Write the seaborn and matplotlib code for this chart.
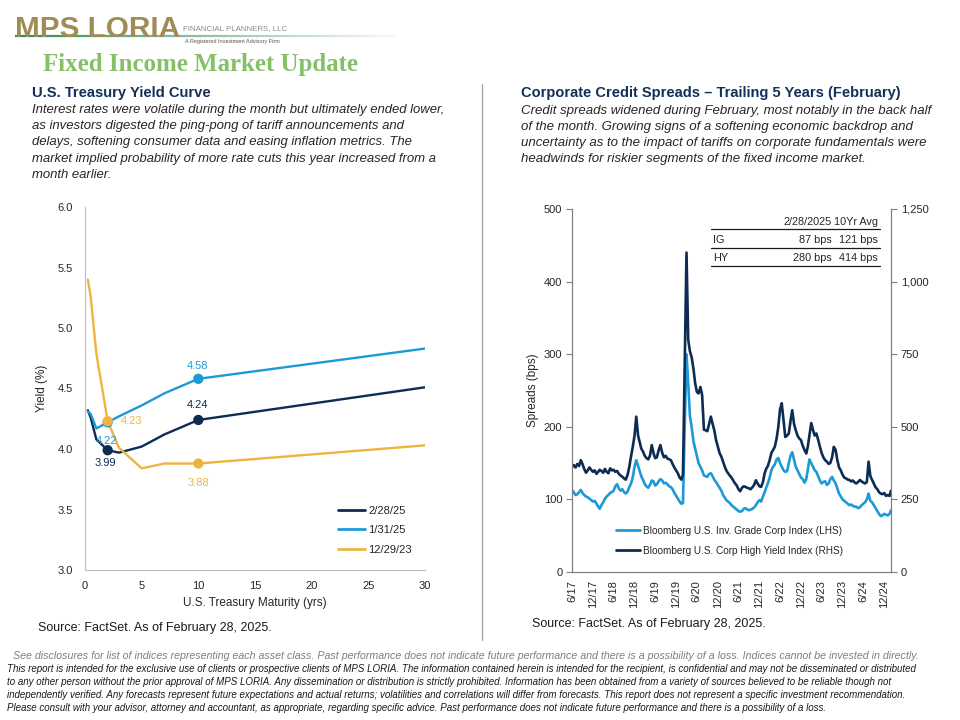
import numpy as np
import pandas as pd
import seaborn as sns
import matplotlib.pyplot as plt
from matplotlib.collections import LineCollection
from matplotlib.lines import Line2D
from matplotlib.ticker import FuncFormatter

# ---------------- data: treasury yield curves ----------------
maturities = [0.25, 0.5, 1, 2, 3, 5, 7, 10, 30]
yield_feb25 = [4.32, 4.26, 4.08, 3.99, 3.97, 4.02, 4.12, 4.24, 4.51]
yield_jan25 = [4.31, 4.29, 4.17, 4.22, 4.27, 4.36, 4.46, 4.58, 4.83]
yield_dec23 = [5.40, 5.26, 4.79, 4.23, 4.01, 3.84, 3.88, 3.88, 4.03]
curve_labels = ["2/28/25", "1/31/25", "12/29/23"]
marked_maturities = [2, 10]

# ---------------- data: credit spreads (bps), mid-month / month-end ----------------
ig_spread = [113,
             110, 106, 107, 110, 113, 109, 106, 104, 103, 101, 99, 97,          # 2017
             98, 94, 90, 87, 92, 96, 101, 104, 106, 109, 110, 112,              # 2018 H1
             118, 121, 115, 112, 114, 110, 108, 111, 117, 122, 130, 145,        # 2018 H2
             154, 146, 138, 132, 127, 121, 118, 116, 120, 126, 125, 119,        # 2019 H1
             121, 125, 128, 126, 122, 123, 121, 118, 117, 114, 109, 105,        # 2019 H2
             101, 97, 94, 95, 200, 300, 260, 215, 200, 180, 170, 160,           # 2020 H1
             150, 145, 140, 133, 132, 131, 135, 136, 132, 127, 124, 120,        # 2020 H2
             116, 112, 106, 103, 99, 97, 95, 92, 90, 88, 86, 84,                # 2021 H1
             83, 84, 87, 88, 86, 85, 86, 87, 89, 92, 96, 99,                    # 2021 H2
             97, 104, 110, 116, 122, 130, 140, 145, 148, 155, 157, 150,         # 2022 H1
             145, 140, 138, 139, 150, 160, 165, 155, 145, 140, 135, 130,        # 2022 H2
             128, 123, 128, 140, 155, 150, 145, 140, 138, 132, 126, 122,        # 2023 H1
             124, 125, 120, 122, 128, 131, 126, 122, 115, 108, 104, 100,        # 2023 H2
             98, 96, 94, 92, 93, 91, 90, 90, 88, 89, 92, 94,                    # 2024 H1
             96, 100, 108, 98, 96, 92, 88, 84, 80, 77, 78, 80,                  # 2024 H2
             79, 78, 80, 85]                                                    # 2025
hy_spread = [362,
             368, 360, 372, 365, 385, 372, 355, 342, 350, 360, 352, 345,
             350, 338, 345, 352, 348, 342, 355, 345, 340, 357, 350, 352,
             345, 348, 338, 332, 328, 322, 318, 335, 362, 398, 430, 470,
             535, 470, 445, 425, 415, 400, 392, 388, 400, 437, 410, 392,
             395, 420, 437, 410, 395, 400, 391, 388, 385, 372, 360, 350,
             340, 325, 318, 335, 700, 1100, 800, 760, 740, 700, 650, 620,
             615, 637, 610, 490, 488, 485, 510, 535, 510, 488, 455, 431,
             410, 397, 380, 365, 350, 340, 332, 325, 315, 305, 298, 285,
             278, 290, 295, 293, 290, 288, 285, 292, 300, 316, 305, 295,
             293, 310, 340, 355, 365, 385, 410, 420, 431, 460, 500, 560,
             581, 520, 465, 470, 477, 520, 557, 510, 488, 470, 460, 454,
             435, 420, 408, 430, 470, 513, 490, 470, 477, 455, 431, 410,
             395, 385, 380, 372, 376, 395, 431, 420, 385, 360, 350, 335,
             325, 322, 318, 317, 312, 315, 308, 305, 310, 317, 312, 308,
             305, 310, 380, 330, 317, 305, 292, 285, 275, 270, 268, 272,
             262, 265, 262, 280]
spread_tick_labels = ["6/17", "12/17", "6/18", "12/18", "6/19", "12/19", "6/20", "12/20",
                      "6/21", "12/21", "6/22", "12/22", "6/23", "12/23", "6/24", "12/24"]
table_cols = ["2/28/2025", "10Yr Avg"]
table_rows = ["IG", "HY"]
table_now = ["87 bps", "280 bps"]
table_avg = ["121 bps", "414 bps"]

# observation dates: 6/30/17, then the 15th and month-end of each month
spread_dates = [pd.Timestamp("2017-06-30")]
for p in pd.period_range("2017-07", "2025-02", freq="M"):
    spread_dates += [p.start_time + pd.Timedelta(days=14), p.end_time.normalize()]

NAVY = "#0c2c54"
BLUE = "#1d9ad6"
GOLD = "#efb440"
HEAD = "#13305a"

sns.set_style("white")
plt.rcParams["font.family"] = ["Liberation Sans", "DejaVu Sans"]

fig = plt.figure(figsize=(9.6, 7.2), dpi=100)
renderer = fig.canvas.get_renderer()


def fx(x):
    return x / 960


def fy(y):
    return 1 - y / 720


def fit_text(x, y, s, width, **kw):
    t = fig.text(fx(x), fy(y), s, **kw)
    w = t.get_window_extent(renderer).width
    t.set_fontsize(t.get_fontsize() * width / w)
    return t


# ---------------- header ----------------
fit_text(15, 29, "MPS LORIA", 165, color="#a08c55", weight="bold", va="center")
fit_text(183, 29, "FINANCIAL PLANNERS, LLC", 104, color="#8a8a8a", va="center",
         family=["Liberation Sans Narrow", "Liberation Sans"])
fit_text(185, 42, "A Registered Investment Advisory Firm", 96, color="#555555", va="center",
         family=["Liberation Sans Narrow", "Liberation Sans"])
xs = np.linspace(fx(15), fx(395), 60)
segs = [[(xs[i], fy(36)), (xs[i + 1], fy(36))] for i in range(len(xs) - 1)]
alphas = np.linspace(1, 0.05, len(segs))
fig.add_artist(LineCollection(segs, colors=[(0.2, 0.55, 0.3, a) for a in alphas],
                              linewidths=1.6, transform=fig.transFigure))

fit_text(43, 65, "Fixed Income Market Update", 316, color="#86c066", weight="bold",
         va="center", family=["Liberation Serif", "DejaVu Serif"])

# ---------------- section texts ----------------
fit_text(32, 93, "U.S. Treasury Yield Curve", 179, color=HEAD, weight="bold", va="center")
left_para = ["Interest rates were volatile during the month but ultimately ended lower,",
             "as investors digested the ping-pong of tariff announcements and",
             "delays, softening consumer data and easing inflation metrics. The",
             "market implied probability of more rate cuts this year increased from a",
             "month earlier."]
t0 = fit_text(32, 110, left_para[0], 415, color="#262626", style="italic", va="center")
for i, line in enumerate(left_para[1:], 1):
    fig.text(fx(32), fy(110 + 16.2 * i), line, color="#262626", style="italic",
             va="center", fontsize=t0.get_fontsize())

fit_text(521, 93, "Corporate Credit Spreads \u2013 Trailing 5 Years (February)", 380,
         color=HEAD, weight="bold", va="center")
right_para = ["Credit spreads widened during February, most notably in the back half",
              "of the month. Growing signs of a softening economic backdrop and",
              "uncertainty as to the impact of tariffs on corporate fundamentals were",
              "headwinds for riskier segments of the fixed income market."]
t1 = fit_text(521, 111, right_para[0], 412, color="#262626", style="italic", va="center")
for i, line in enumerate(right_para[1:], 1):
    fig.text(fx(521), fy(111 + 16 * i), line, color="#262626", style="italic",
             va="center", fontsize=t1.get_fontsize())

fig.add_artist(Line2D([fx(482), fx(482)], [fy(84), fy(640)], color="#a6a6a6",
                      linewidth=1.0, transform=fig.transFigure))

# ---------------- left chart: yield curve ----------------
ax1 = fig.add_axes([fx(85), fy(570), fx(340), 363 / 720])
curves = pd.DataFrame({
    "maturity": maturities * 3,
    "yield": yield_feb25 + yield_jan25 + yield_dec23,
    "curve": np.repeat(curve_labels, len(maturities)),
})
palette = dict(zip(curve_labels, [NAVY, BLUE, GOLD]))
sns.lineplot(data=curves, x="maturity", y="yield", hue="curve", hue_order=curve_labels,
             palette=palette, linewidth=1.7, legend=False, ax=ax1)
marked = curves[curves["maturity"].isin(marked_maturities)]
sns.scatterplot(data=marked, x="maturity", y="yield", hue="curve", hue_order=curve_labels,
                palette=palette, s=55, edgecolor="none", legend=False, ax=ax1, zorder=5)

label_offsets = {
    ("2/28/25", 2): (-2, -13), ("2/28/25", 10): (-1, 15),
    ("1/31/25", 2): (-1, -19), ("1/31/25", 10): (-1, 13),
    ("12/29/23", 2): (24, 0), ("12/29/23", 10): (0, -19),
}
for _, row in marked.iterrows():
    dx, dy = label_offsets[(row["curve"], row["maturity"])]
    ax1.annotate(f"{row['yield']:.2f}", (row["maturity"], row["yield"]),
                 xytext=(dx, dy), textcoords="offset pixels", ha="center", va="center",
                 color=palette[row["curve"]], fontsize=8, zorder=6)

ax1.set_xlim(0, 30)
ax1.set_ylim(3.0, 6.0)
ax1.set_xticks(range(0, 31, 5))
ax1.set_yticks(np.arange(3.0, 6.01, 0.5))
ax1.yaxis.set_major_formatter(FuncFormatter(lambda v, p: f"{v:.1f}"))
ax1.tick_params(length=0, labelsize=8, colors="#262626")
ax1.tick_params(axis="y", pad=9)
ax1.tick_params(axis="x", pad=8)
for s in ["top", "right"]:
    ax1.spines[s].set_visible(False)
for s in ["left", "bottom"]:
    ax1.spines[s].set_color("#bfbfbf")
ax1.set_xlabel("U.S. Treasury Maturity (yrs)", fontsize=8.5, color="#262626")
ax1.set_ylabel("Yield (%)", fontsize=8.5, color="#262626")
ax1.xaxis.set_label_coords(0.5, -0.075)
ax1.yaxis.set_label_coords(-0.108, 0.5)
handles = [Line2D([], [], color=palette[c], linewidth=2) for c in curve_labels]
ax1.legend(handles, curve_labels, loc="lower right", bbox_to_anchor=(0.99, 0.015),
           frameon=False, fontsize=8, handlelength=2.4, labelspacing=0.85,
           handletextpad=0.3)

# ---------------- right chart: credit spreads ----------------
ax2 = fig.add_axes([fx(572), fy(572), fx(319), 363 / 720])
spreads = pd.DataFrame({"date": spread_dates, "ig": ig_spread, "hy": hy_spread})
sns.lineplot(data=spreads, x="date", y="ig", color=BLUE, linewidth=1.9, ax=ax2)
ax3 = ax2.twinx()
sns.lineplot(data=spreads, x="date", y="hy", color=NAVY, linewidth=1.9, ax=ax3)

tick_dates = [pd.Timestamp(f"{y}-{md}") for y in range(2017, 2025) for md in ("06-30", "12-31")]
ax2.set_xlim(spread_dates[0], spread_dates[-1])
ax2.set_xticks(tick_dates)
ax2.set_xticklabels(spread_tick_labels, rotation=90)
ax2.set_ylim(0, 500)
ax2.set_yticks(range(0, 501, 100))
ax3.set_ylim(0, 1250)
ax3.set_yticks(range(0, 1251, 250))
ax3.yaxis.set_major_formatter(FuncFormatter(lambda v, p: f"{v:,.0f}"))
ax2.set_xlabel("")
ax2.set_ylabel("Spreads (bps)", fontsize=8.5, color="#262626")
ax2.yaxis.set_label_coords(-0.103, 0.5)
ax3.set_ylabel("")
for a in (ax2, ax3):
    a.spines["top"].set_visible(False)
    for s in ["left", "bottom", "right"]:
        a.spines[s].set_color("#7f7f7f")
    a.tick_params(direction="out", length=4, width=0.8, color="#7f7f7f",
                  labelsize=8, labelcolor="#262626", pad=3)
ax2.tick_params(axis="x", labelsize=8, pad=2)

leg = ax3.legend([Line2D([], [], color=BLUE, linewidth=2), Line2D([], [], color=NAVY, linewidth=2)],
                 ["Bloomberg U.S. Inv. Grade Corp Index (LHS)",
                  "Bloomberg U.S. Corp High Yield Index (RHS)"],
                 loc="lower left", bbox_to_anchor=(0.11, 0.02), frameon=False,
                 fontsize=7.2, handlelength=2.4, labelspacing=1.0, handletextpad=0.3)

# summary table
tx = ax3.transAxes
row_y = [0.964, 0.915, 0.865]
line_y = [0.945, 0.893, 0.843]
for j, col in enumerate(table_cols):
    ax3.text([0.815, 0.959][j], row_y[0], col, transform=tx, ha="right", va="center",
             fontsize=7.8, color="#262626")
for i, name in enumerate(table_rows):
    ax3.text(0.442, row_y[i + 1], name, transform=tx, ha="left", va="center",
             fontsize=7.8, color="#262626")
    ax3.text(0.815, row_y[i + 1], table_now[i], transform=tx, ha="right", va="center",
             fontsize=7.8, color="#262626")
    ax3.text(0.959, row_y[i + 1], table_avg[i], transform=tx, ha="right", va="center",
             fontsize=7.8, color="#262626")
for ly in line_y:
    ax3.plot([0.436, 0.966], [ly, ly], transform=tx, color="#1a1a1a", linewidth=0.9)

# ---------------- sources & footer ----------------
fig.text(fx(38), fy(628), "Source: FactSet. As of February 28, 2025.", fontsize=9,
         color="#1a1a1a", va="center")
fig.text(fx(532), fy(624), "Source: FactSet. As of February 28, 2025.", fontsize=9,
         color="#1a1a1a", va="center")

narrow = ["Liberation Sans Narrow", "Liberation Sans"]
fit_text(13, 656, "See disclosures for list of indices representing each asset class. Past performance "
         "does not indicate future performance and there is a possibility of a loss. Indices cannot "
         "be invested in directly.", 914, color="#7f7f7f", style="italic", va="center", family=narrow)
footer = ["This report is intended for the exclusive use of clients or prospective clients of MPS LORIA. "
          "The information contained herein is intended for the recipient, is confidential and may not be "
          "disseminated or distributed",
          "to any other person without the prior approval of MPS LORIA. Any dissemination or distribution is "
          "strictly prohibited. Information has been obtained from a variety of sources believed to be "
          "reliable though not",
          "independently verified. Any forecasts represent future expectations and actual returns; "
          "volatilities and correlations will differ from forecasts. This report does not represent a "
          "specific investment recommendation.",
          "Please consult with your advisor, attorney and accountant, as appropriate, regarding specific "
          "advice. Past performance does not indicate future performance and there is a possibility of a loss."]
f0 = fit_text(7, 669, footer[0], 920, color="#1a1a1a", style="italic", va="center", family=narrow)
for i, line in enumerate(footer[1:], 1):
    fig.text(fx(7), fy(669 + 13 * i), line, color="#1a1a1a", style="italic", va="center",
             family=narrow, fontsize=f0.get_fontsize())

fig.savefig("out.png", dpi=100, facecolor="white")
